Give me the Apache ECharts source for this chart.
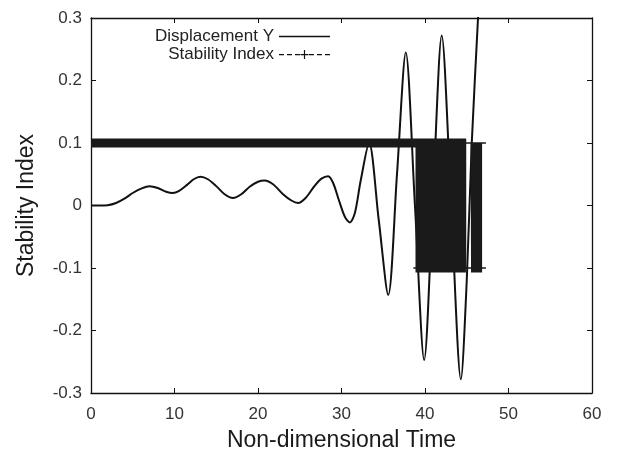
<!DOCTYPE html>
<html>
<head>
<meta charset="utf-8">
<script src="https://cdn.jsdelivr.net/npm/echarts@6/dist/echarts.min.js"></script>
<style>
html, body { margin: 0; background: #fff; }
#chart { width: 623px; height: 449px; }
</style>
</head>
<body>
<div id="chart"></div>
<script>
// displacement curve
var dispT = [0, 1, 2, 3, 4, 5, 6, 7, 8, 9, 9.8, 10.5, 11.5, 12.3, 13.1, 14, 15, 16, 17, 18, 19, 20, 20.8, 21.8, 23, 24, 24.8,
             25.7, 26.7, 27.6, 28.4, 29, 29.7, 30.4, 31.0, 31.6, 32.3, 33.3, 34.45, 35.6, 36.65, 37.7, 38.8, 39.9, 40.95,
             42.0, 43.15, 44.3, 45.0, 45.6, 46.35, 47.0];
var dispY = [0, 0, 0.0005, 0.004, 0.011, 0.020, 0.027, 0.031, 0.028, 0.022, 0.020, 0.023, 0.033, 0.042, 0.046, 0.042, 0.031, 0.018, 0.012, 0.018, 0.030, 0.038, 0.040, 0.034, 0.018, 0.008, 0.004,
             0.012, 0.030, 0.043, 0.047, 0.036, 0.008, -0.018, -0.027, -0.012, 0.040, 0.100, -0.022, -0.143, 0.051, 0.245, -0.001, -0.247, 0.012,
             0.272, -0.003, -0.278, -0.12, 0.1, 0.3, 0.48];

// stability index: flat at 0.1, then fast switching between 0.1 and -0.1
var siT = [0, 39.4, 39.4, 39.9, 39.9, 40.4, 40.4, 40.9, 40.9, 41.4, 41.4, 41.9, 41.9, 42.4, 42.4, 42.9, 42.9, 43.4, 43.4, 43.9, 43.9, 44.4, 44.4, 44.9];
var siV = [0.1, 0.1, -0.1, -0.1, 0.1, 0.1, -0.1, -0.1, 0.1, 0.1, -0.1, -0.1, 0.1, 0.1, -0.1, -0.1, 0.1, 0.1, -0.1, -0.1, 0.1, 0.1, -0.1, -0.1];
var si2T = [46.0, 46.05, 46.05, 46.3, 46.3, 46.35];
var si2V = [0.1, 0.1, -0.1, -0.1, 0.1, 0.1];
// marker arms sticking out past the switching blocks
var armLowT = [38.6, 47.3];
var armHighT = [44.5, 47.3];

var xTicks = { min: 0, max: 60, interval: 10 };
var yTicks = { min: -0.3, max: 0.3, interval: 0.1 };

function zip(xs, ys) {
  return xs.map(function (x, i) { return [x, ys[i]]; });
}

var font = 'Liberation Sans';
var plusDash = 'path://M0,4H5V5.2H0Z M8,4H13V5.2H8Z M16,4H21V5.2H16Z M21.5,4H29.5V5.2H21.5Z M24.9,0H26.1V9H24.9Z M30,4H35V5.2H30Z M38,4H43V5.2H38Z M46,4H51V5.2H46Z';

function axisBase(extra) {
  var a = {
    type: 'value',
    axisLine: { onZero: false, lineStyle: { color: '#111', width: 1.3 } },
    axisTick: { inside: true, length: 5, lineStyle: { color: '#111', width: 1 } },
    splitLine: { show: false },
    axisLabel: { fontFamily: font, fontSize: 17, color: '#333' }
  };
  for (var k in extra) a[k] = extra[k];
  return a;
}

var chart = echarts.init(document.getElementById('chart'));
var option = {
  animation: false,
  grid: { left: 91, right: 31, top: 18, bottom: 56, outerBoundsMode: 'none', containLabel: false },
  legend: {
    orient: 'vertical',
    align: 'right',
    right: 288,
    top: 23,
    itemWidth: 51,
    itemHeight: 9,
    itemGap: 1,
    symbolKeepAspect: true,
    textStyle: { fontFamily: font, fontSize: 17, color: '#222' },
    data: [
      { name: 'Displacement Y', icon: 'path://M0,0H51V1.6H0Z', itemStyle: { color: '#111' } },
      { name: 'Stability Index', icon: plusDash, itemStyle: { color: '#111' } }
    ]
  },
  xAxis: [
    axisBase({
      min: xTicks.min, max: xTicks.max, interval: xTicks.interval,
      axisLabel: { fontFamily: font, fontSize: 17, color: '#333', margin: 13 },
      name: 'Non-dimensional Time', nameLocation: 'middle', nameGap: 36,
      nameTextStyle: { fontFamily: font, fontSize: 23, color: '#1a1a1a' }
    }),
    axisBase({
      position: 'top', min: xTicks.min, max: xTicks.max, interval: xTicks.interval,
      axisLabel: { show: false }
    })
  ],
  yAxis: [
    axisBase({
      min: yTicks.min, max: yTicks.max, interval: yTicks.interval,
      axisLabel: {
        fontFamily: font, fontSize: 17, color: '#333', margin: 9,
        formatter: function (v) { return String(+v.toFixed(1)); }
      },
      name: 'Stability Index', nameLocation: 'middle', nameGap: 53,
      nameTextStyle: { fontFamily: font, fontSize: 23, color: '#1a1a1a' }
    }),
    axisBase({
      position: 'right', min: yTicks.min, max: yTicks.max, interval: yTicks.interval,
      axisLabel: { show: false }
    })
  ],
  series: [
    {
      name: 'Displacement Y', type: 'line', data: zip(dispT, dispY),
      smooth: 0.3, symbol: 'none',
      lineStyle: { color: '#111', width: 2 }
    },
    {
      name: 'Stability Index', type: 'line', data: zip(siT, siV),
      symbol: 'none',
      lineStyle: { color: '#1a1a1a', width: 9, cap: 'butt', join: 'miter' }
    },
    {
      name: 'Stability Index', type: 'line', data: zip(si2T, si2V),
      symbol: 'none',
      lineStyle: { color: '#1a1a1a', width: 9, cap: 'butt', join: 'miter' }
    },
    {
      name: 'Stability Index', type: 'line', data: zip(armLowT, [-0.1, -0.1]),
      symbol: 'none',
      lineStyle: { color: '#1a1a1a', width: 1.5 }
    },
    {
      name: 'Stability Index', type: 'line', data: zip(armHighT, [0.1, 0.1]),
      symbol: 'none',
      lineStyle: { color: '#1a1a1a', width: 1.5 }
    }
  ]
};
chart.setOption(option);
</script>
</body>
</html>
